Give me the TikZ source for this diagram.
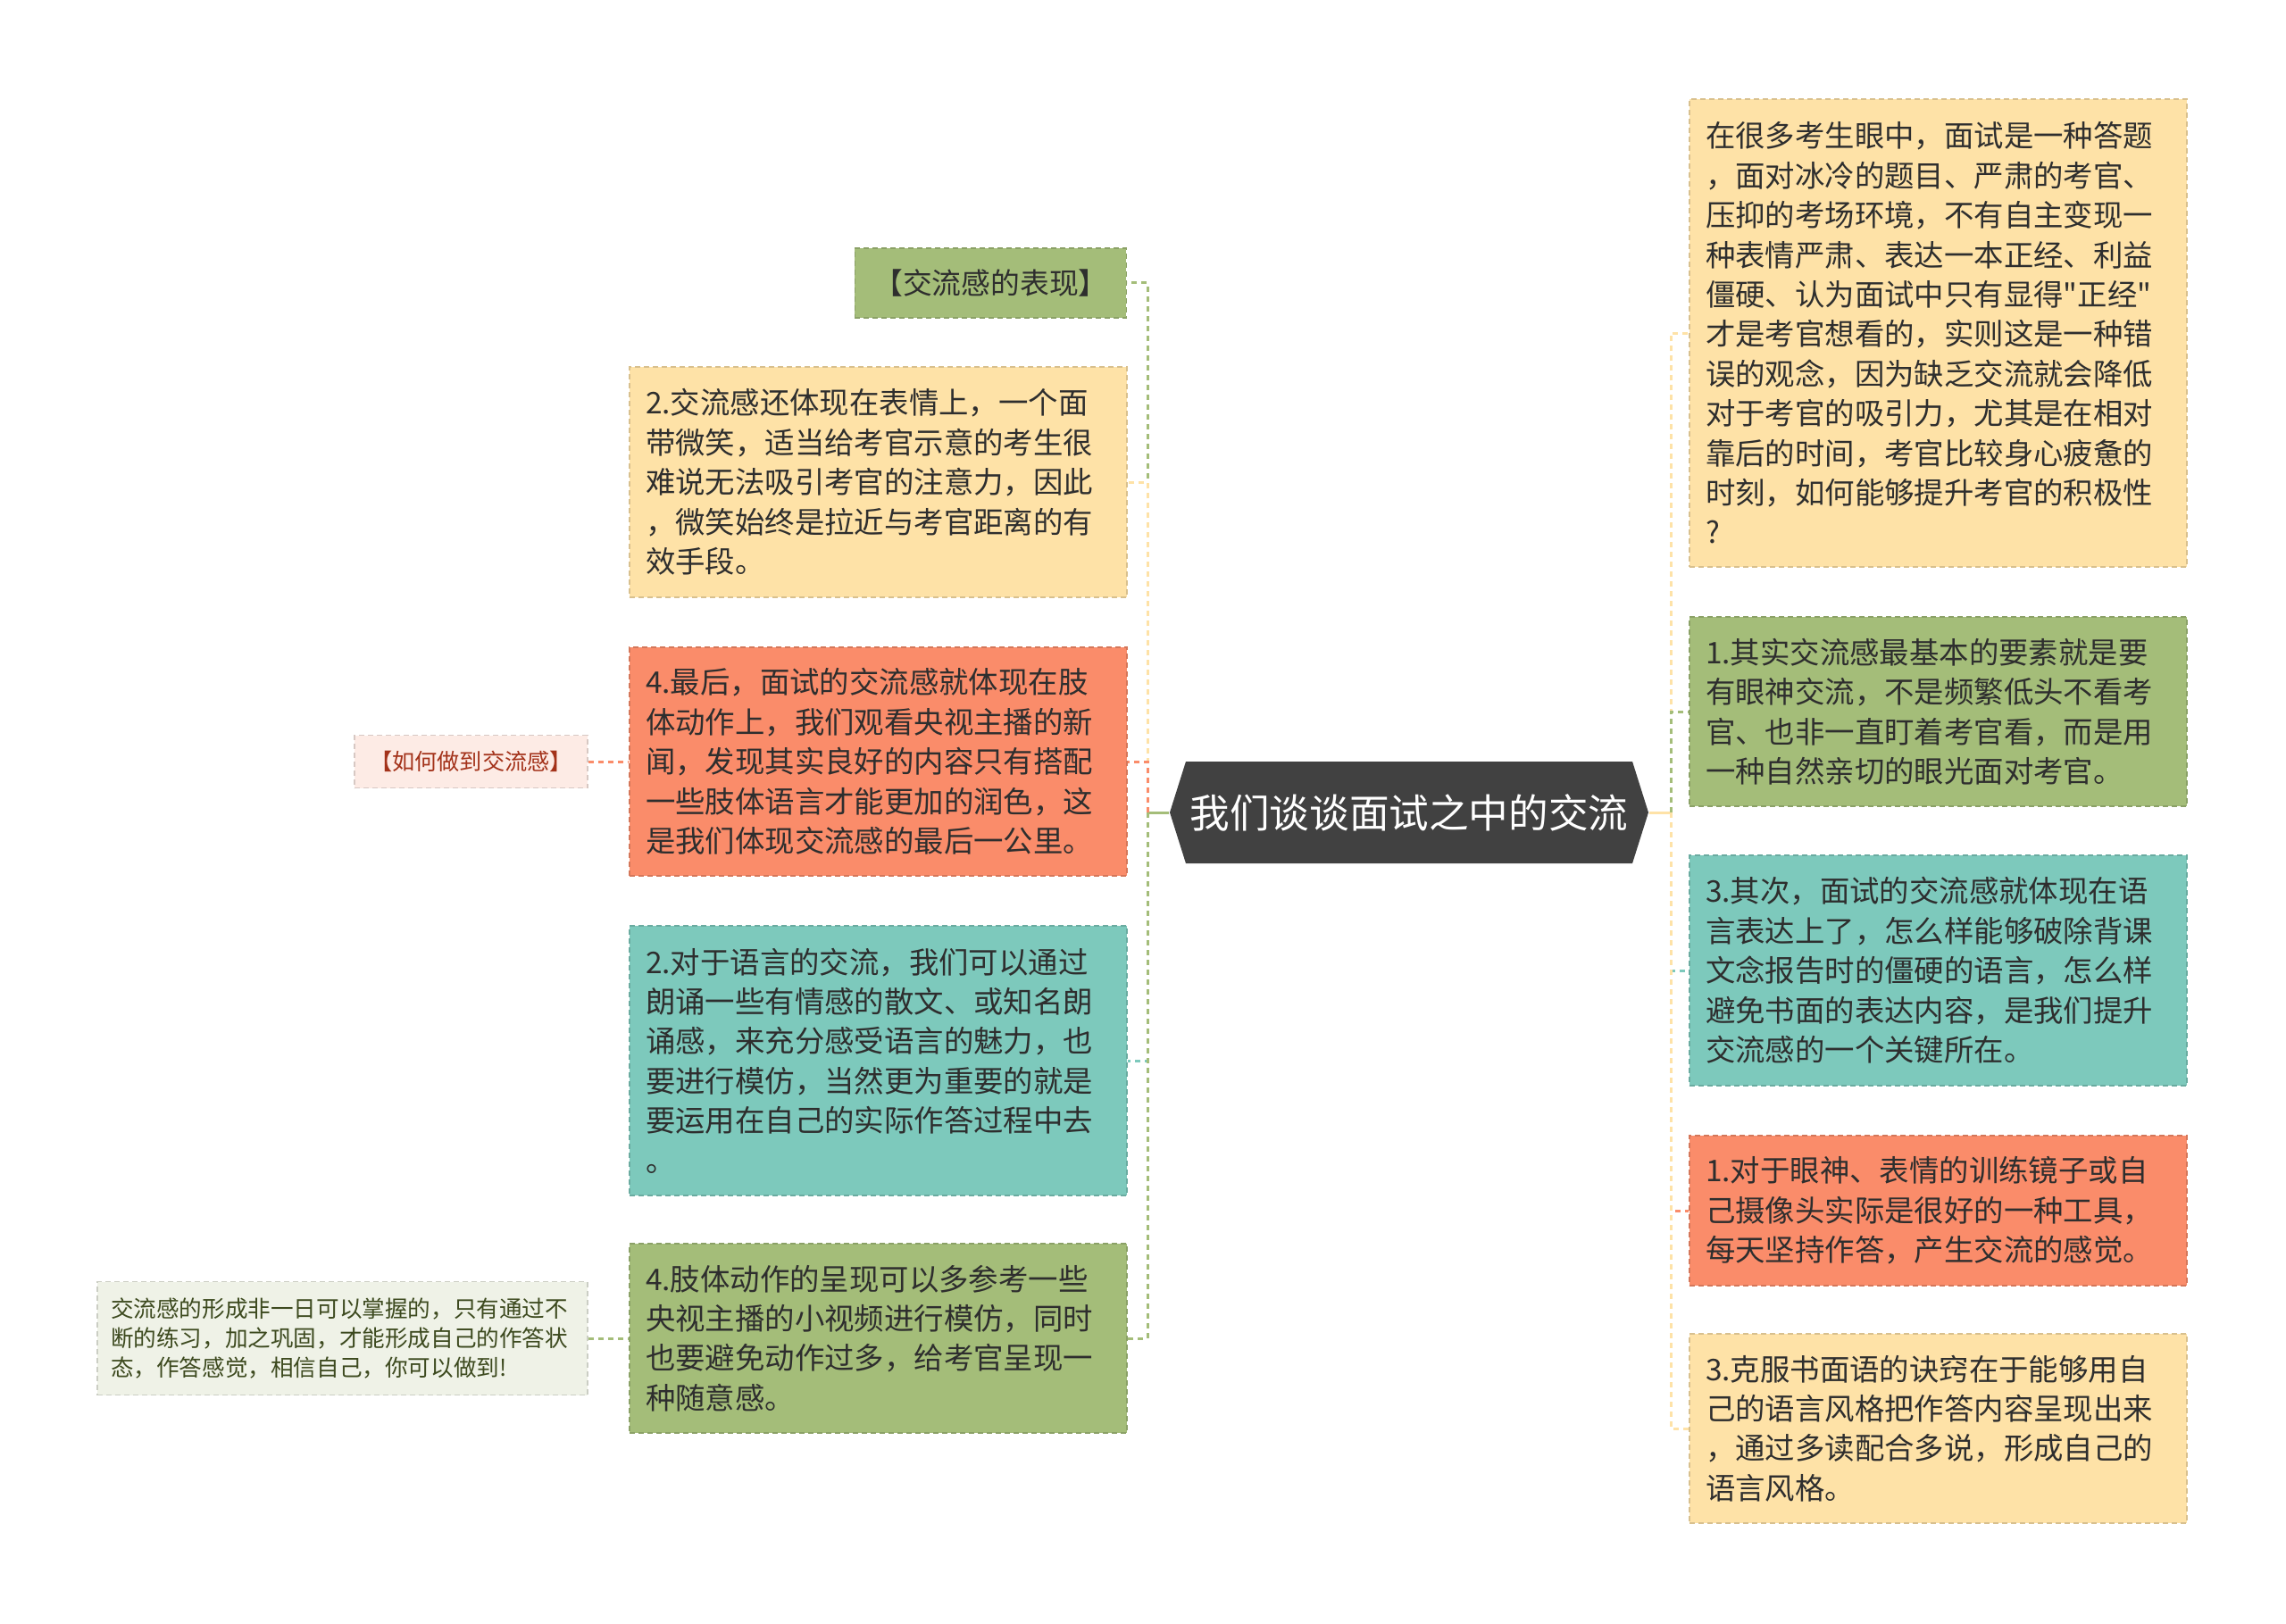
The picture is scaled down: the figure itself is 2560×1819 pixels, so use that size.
\documentclass[tikz,border=0pt]{standalone}
\usepackage{fontspec}
\setmainfont{Noto Sans CJK SC}[Ligatures=TeXOff]
\usetikzlibrary{shapes.symbols}

\definecolor{cgreen}{HTML}{A4BD79}
\definecolor{cyellow}{HTML}{FEE2A7}
\definecolor{csalmon}{HTML}{FA8C6A}
\definecolor{cteal}{HTML}{7DC9BC}
\definecolor{croot}{HTML}{414141}
\definecolor{ctext}{HTML}{2E2E2E}
\definecolor{cpink}{HTML}{FDEBE5}
\definecolor{cpinktext}{HTML}{A3321A}
\definecolor{cpale}{HTML}{EFF2E7}
\definecolor{cpaletext}{HTML}{3D4A1F}

\tikzset{every picture/.style={line width=0.75pt},
  topic/.style={draw=#1!85!black, fill=#1, dash pattern=on 3pt off 2pt, line width=0.6pt,
    text=ctext, align=left, inner xsep=9pt, inner ysep=0pt, text width=260.5pt,
    font=\fontsize{16.7}{22.2}\selectfont},
  sub/.style={draw=#1!85!black, fill=#1, dash pattern=on 3pt off 2pt, line width=0.6pt,
    inner sep=0pt},
  rootbox/.style={shape=signal, signal to=west and east, signal pointer angle=145,
    fill=croot, text=white, minimum width=268pt, minimum height=57pt, inner sep=0pt,
    font=\fontsize{22.3}{26}\selectfont},
  link/.style={draw=#1, line width=1.5pt, dash pattern=on 3pt off 2.5pt},
  trunk/.style={draw=#1, line width=1.5pt}
}

\begin{document}
\begin{tikzpicture}[x=0.5pt,y=0.5pt,yscale=-1]
  %set diagram to the full page, 2560 x 1819
  \fill[white] (0,0) rectangle (2560,1819);
  \useasboundingbox (0,0) rectangle (2560,1819);

  %Shape: Hexagon [id:root]
  \node[rootbox] (root) at (1578,910) {我们谈谈面试之中的交流};
  \coordinate (lspine) at (1285,910);
  \coordinate (rspine) at (1871,910);

  % Text Node
  \node[sub=cgreen, anchor=east, minimum width=152pt, minimum height=39pt, text=ctext,
    font=\fontsize{16.4}{20}\selectfont] (l1) at (1262,317) {【交流感的表现】};
  % Text Node
  \node[topic=cyellow, minimum height=129pt] (l2) at (983.5,540) {2.交流感还体现在表情上，一个面\\带微笑，适当给考官示意的考生很\\难说无法吸引考官的注意力，因此\\，微笑始终是拉近与考官距离的有\\效手段。};
  % Text Node
  \node[topic=csalmon, minimum height=128pt] (l3) at (983.5,853) {4.最后，面试的交流感就体现在肢\\体动作上，我们观看央视主播的新\\闻，发现其实良好的内容只有搭配\\一些肢体语言才能更加的润色，这\\是我们体现交流感的最后一公里。};
  % Text Node
  \node[topic=cteal, minimum height=151pt] (l4) at (983.5,1188) {2.对于语言的交流，我们可以通过\\朗诵一些有情感的散文、或知名朗\\诵感，来充分感受语言的魅力，也\\要进行模仿，当然更为重要的就是\\要运用在自己的实际作答过程中去\\。};
  % Text Node
  \node[topic=cgreen, minimum height=106pt] (l5) at (983.5,1499) {4.肢体动作的呈现可以多参考一些\\央视主播的小视频进行模仿，同时\\也要避免动作过多，给考官呈现一\\种随意感。};

  % Text Node
  \node[sub=cpink, minimum width=130.5pt, minimum height=29.5pt, text=cpinktext,
    font=\fontsize{12.6}{15}\selectfont] (g1) at (527.5,853) {【如何做到交流感】};
  % Text Node
  \node[sub=cpale, minimum width=274.5pt, minimum height=63.5pt, text=cpaletext,
    align=left, text width=259.5pt, inner xsep=7.5pt,
    font=\fontsize{12.8}{16.7}\selectfont] (g2) at (383.5,1499) {交流感的形成非一日可以掌握的，只有通过不\\断的练习，加之巩固，才能形成自己的作答状\\态，作答感觉，相信自己，你可以做到!};

  % Text Node
  \node[topic=cyellow, minimum height=262pt] (r1) at (2170.5,373) {在很多考生眼中，面试是一种答题\\，面对冰冷的题目、严肃的考官、\\压抑的考场环境，不有自主变现一\\种表情严肃、表达一本正经、利益\\僵硬、认为面试中只有显得"正经"\\才是考官想看的，实则这是一种错\\误的观念，因为缺乏交流就会降低\\对于考官的吸引力，尤其是在相对\\靠后的时间，考官比较身心疲惫的\\时刻，如何能够提升考官的积极性\\?};
  % Text Node
  \node[topic=cgreen, minimum height=106pt] (r2) at (2170.5,797) {1.其实交流感最基本的要素就是要\\有眼神交流，不是频繁低头不看考\\官、也非一直盯着考官看，而是用\\一种自然亲切的眼光面对考官。};
  % Text Node
  \node[topic=cteal, minimum height=129pt] (r3) at (2170.5,1087) {3.其次，面试的交流感就体现在语\\言表达上了，怎么样能够破除背课\\文念报告时的僵硬的语言，怎么样\\避免书面的表达内容，是我们提升\\交流感的一个关键所在。};
  % Text Node
  \node[topic=csalmon, minimum height=84pt] (r4) at (2170.5,1356) {1.对于眼神、表情的训练镜子或自\\己摄像头实际是很好的一种工具，\\每天坚持作答，产生交流的感觉。};
  % Text Node
  \node[topic=cyellow, minimum height=106pt] (r5) at (2170.5,1600) {3.克服书面语的诀窍在于能够用自\\己的语言风格把作答内容呈现出来\\，通过多读配合多说，形成自己的\\语言风格。};

  %Straight Lines
  \draw[trunk=cgreen] (root.west) -- (lspine);
  \draw[trunk=cyellow] (root.east) -- (rspine);

  %Elbow Lines, left
  \draw[link=cgreen] (lspine) |- (l1.east);
  \draw[link=cyellow] (lspine) |- (l2.east);
  \draw[link=csalmon] (lspine) |- (l3.east);
  \draw[link=cteal] (lspine) |- (l4.east);
  \draw[link=cgreen] (lspine) |- (l5.east);

  %Straight Lines
  \draw[link=csalmon] (g1.east) -- (l3.west);
  \draw[link=cgreen] (g2.east) -- (l5.west);

  %Elbow Lines, right
  \draw[link=cyellow] (rspine) |- (r1.west);
  \draw[link=cgreen] (rspine) |- (r2.west);
  \draw[link=cteal] (rspine) |- (r3.west);
  \draw[link=csalmon] (rspine) |- (r4.west);
  \draw[link=cyellow] (rspine) |- (r5.west);

\end{tikzpicture}
\end{document}
